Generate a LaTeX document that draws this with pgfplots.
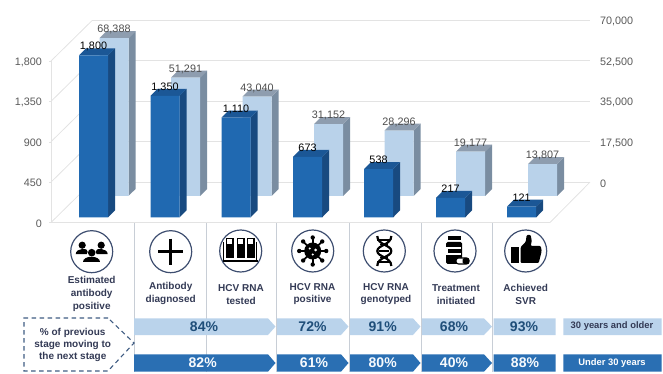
\documentclass[border=0pt]{standalone}
\usepackage{fontspec}
\setmainfont{Liberation Sans}
\usepackage{pgfplots}
\usepackage{pgfplotstable}
\pgfplotsset{compat=1.18}
\pgfplotsset{/pgf/number format/assume math mode=true,/pgf/number format/.cd,fixed,precision=0,1000 sep={,}}
\definecolor{fb}{HTML}{2069B1}
\definecolor{fs}{HTML}{184A80}
\definecolor{ft}{HTML}{1B5796}
\definecolor{rb}{HTML}{B9D2EA}
\definecolor{rs}{HTML}{7A8DA1}
\definecolor{rt}{HTML}{8E9DAF}
\definecolor{wallc}{HTML}{E3E3E3}
\definecolor{labc}{HTML}{595959}
\definecolor{navyc}{HTML}{333A55}
\definecolor{ringc}{HTML}{3E4E70}
\definecolor{sepc}{HTML}{C8CED6}
\definecolor{bandl}{HTML}{BAD3EB}
\definecolor{bandd}{HTML}{2A6FB3}
\definecolor{pcttxt}{HTML}{1F4E79}
\definecolor{dashc}{HTML}{3F5C82}
\pgfplotstableread{
x value
93.5 1800
165 1350
236 1110
307.5 673
378.5 538
450.5 217
521.5 121
}\frontdata
\pgfplotstableread{
x value
114 68388
185.5 51291
257 43040
328.5 31152
399 28296
470.5 19177
542.5 13807
}\reardata
% side and top faces of a bar: right edge, value, depth in data units, colours
\newcommand\facets[5]{%
  \pgfmathsetmacro\Rr{#1+7}\pgfmathsetmacro\Ll{#1-29+7}\pgfmathsetmacro\Lz{#1-29}\edef\Vv{\the\numexpr#2+#3\relax}%
  \edef\temp{\noexpand\addplot[fill=#4,draw=none,forget plot] coordinates {(#1,0) (\Rr,#3) (\Rr,\Vv) (#1,#2)} --cycle;
  \noexpand\addplot[fill=#5,draw=none,forget plot] coordinates {(\Lz,#2) (#1,#2) (\Rr,\Vv) (\Ll,\Vv)} --cycle;}\temp}
\newcommand\band[7]{\addplot[fill=#1,draw=none,forget plot] coordinates {(#2,#4) (#3,#4) (#7,#6) (#3,#5) (#2,#5)} --cycle;}
\newcommand\iconat[3]{\begin{scope}[x=1pt,y=-1pt,shift={(#1,#2-374)}]\draw[ringc,line width=1.2pt] (0,0) circle (21pt);#3\end{scope}}
\begin{document}
\begin{tikzpicture}[x=1pt,y=1pt]
\useasboundingbox (0,0) rectangle (663,374);
% left scale and floor
\begin{axis}[name=A,at={(51pt,151.5pt)},anchor=south west,scale only axis,width=499pt,height=161.5pt,
  xmin=51,xmax=550,ymin=0,ymax=1800,ytick={0,450,900,1350,1800},xtick=\empty,clip=false,
  axis y line*=left,axis x line*=bottom,axis line style={wallc,-,line width=0.9pt},
  tick align=outside,major tick length=2pt,tick style={wallc},
  yticklabel style={font=\fontsize{10.8}{12}\selectfont,text=labc,inner sep=0pt,xshift=-7pt,yshift=-1pt}]
\addplot[wallc,line width=0.8pt,forget plot] coordinates {(51,0) (92,450)};
\addplot[wallc,line width=0.8pt,forget plot] coordinates {(51,450) (92,900)};
\addplot[wallc,line width=0.8pt,forget plot] coordinates {(51,900) (92,1350)};
\addplot[wallc,line width=0.8pt,forget plot] coordinates {(51,1350) (92,1800)};
\addplot[wallc,line width=0.8pt,forget plot] coordinates {(51,1800) (92,2250)};
\addplot[wallc,line width=0.8pt,forget plot] coordinates {(550,0) (590,450)};
\end{axis}
% right scale and back wall
\begin{axis}[at={(92pt,191.5pt)},anchor=south west,scale only axis,width=498pt,height=162.5pt,
  xmin=92,xmax=590,ymin=0,ymax=70000,ytick={0,17500,35000,52500,70000},xtick=\empty,clip=false,
  axis y line*=right,axis x line=none,y axis line style={draw=none},major tick length=0pt,
  ymajorgrids,grid style={wallc,line width=0.9pt},scaled y ticks=false,
  yticklabel style={font=\fontsize{10.8}{12}\selectfont,text=labc,inner sep=0pt,xshift=10pt,yshift=-1.5pt}]
\end{axis}
% rear bars: 30 years and older
\begin{axis}[hide axis,at={(51pt,178pt)},anchor=south west,scale only axis,width=539pt,height=161.7pt,
  xmin=51,xmax=590,ymin=0,ymax=70000,clip=false]
\facets{128.5}{68388}{3030}{rs}{rt}
\facets{200}{51291}{3030}{rs}{rt}
\facets{271.5}{43040}{3030}{rs}{rt}
\facets{343}{31152}{3030}{rs}{rt}
\facets{413.5}{28296}{3030}{rs}{rt}
\facets{485}{19177}{3030}{rs}{rt}
\facets{557}{13807}{3030}{rs}{rt}
\addplot[ybar,bar width=29pt,bar shift=0pt,fill=rb,draw=none,
  nodes near coords,every node near coord/.append style={anchor=base,yshift=5.5pt,inner sep=0pt,font=\fontsize{10.8}{12}\selectfont,text=labc!85!black}]
  table[x=x,y=value]{\reardata};
\end{axis}
% front bars: under 30 years
\begin{axis}[hide axis,at={(51pt,156.5pt)},anchor=south west,scale only axis,width=539pt,height=162pt,
  xmin=51,xmax=590,ymin=0,ymax=1800,clip=false]
\facets{108}{1800}{78}{fs}{ft}
\facets{179.5}{1350}{78}{fs}{ft}
\facets{250.5}{1110}{78}{fs}{ft}
\facets{322}{673}{78}{fs}{ft}
\facets{393}{538}{78}{fs}{ft}
\facets{465}{217}{78}{fs}{ft}
\facets{536}{121}{78}{fs}{ft}
\addplot[ybar,bar width=29pt,bar shift=0pt,fill=fb,draw=none,
  nodes near coords,every node near coord/.append style={anchor=base,yshift=5.5pt,inner sep=0pt,font=\fontsize{10.8}{12}\selectfont,text=black}]
  table[x=x,y=value]{\frontdata};
\end{axis}
% lower panel in picture pixels
\begin{axis}[hide axis,at={(0pt,0pt)},anchor=south west,scale only axis,width=663pt,height=374pt,
  xmin=0,xmax=663,ymin=0,ymax=374,y dir=reverse,clip=false]
\addplot[sepc,line width=0.9pt,forget plot] coordinates {(134,223) (134,372)};
\addplot[sepc,line width=0.9pt,forget plot] coordinates {(206,223) (206,372)};
\addplot[sepc,line width=0.9pt,forget plot] coordinates {(276,223) (276,372)};
\addplot[sepc,line width=0.9pt,forget plot] coordinates {(349.5,223) (349.5,372)};
\addplot[sepc,line width=0.9pt,forget plot] coordinates {(421,223) (421,372)};
\addplot[sepc,line width=0.9pt,forget plot] coordinates {(492.7,223) (492.7,372)};
\band{bandl}{134}{268}{318.3}{335}{326.6}{275.5}
\band{bandl}{277}{341}{318.3}{335}{326.6}{348.5}
\band{bandl}{350}{413}{318.3}{335}{326.6}{420.5}
\band{bandl}{422}{484}{318.3}{335}{326.6}{492}
\band{bandl}{493.5}{555.7}{318.3}{335}{326.6}{555.7}
\band{bandl}{563.3}{661.7}{318.3}{335}{326.6}{661.7}
\band{bandd}{134}{268}{354.3}{371.7}{363}{275.5}
\band{bandd}{277}{341}{354.3}{371.7}{363}{348.5}
\band{bandd}{350}{413}{354.3}{371.7}{363}{420.5}
\band{bandd}{422}{484}{354.3}{371.7}{363}{492}
\band{bandd}{493.5}{555.7}{354.3}{371.7}{363}{555.7}
\band{bandd}{563.3}{661.7}{354.3}{371.7}{363}{661.7}
\addplot[dashc,line width=1.1pt,dash pattern=on 4.5pt off 3.5pt,forget plot] coordinates {(108,318) (24,318) (24,371) (108,371) (134,343) (108,318)};
\end{axis}
\begin{scope}[x=1pt,y=-1pt,shift={(0,-374)},every node/.style={inner sep=0pt,font=\fontsize{10}{12}\selectfont\bfseries,text=navyc}]
\node at (91.7,280) {Estimated};\node at (91.7,293.5) {antibody};\node at (91.7,307) {positive};
\node at (170.7,286.7) {Antibody};\node at (170.7,300) {diagnosed};
\node at (241,288.5) {HCV RNA};\node at (241,301) {tested};
\node at (312.5,286.7) {HCV RNA};\node at (312.5,300) {positive};
\node at (386,286.7) {HCV RNA};\node at (386,300) {genotyped};
\node at (456,288) {Treatment};\node at (456,301) {initiated};
\node at (525.7,288) {Achieved};\node at (525.7,301) {SVR};
\node at (72.7,333.3) {\% of previous};\node at (72.7,345) {stage moving to};\node at (72.7,356.7) {the next stage};
\node[font=\fontsize{9.4}{11}\selectfont\bfseries] at (612,326.5) {30 years and older};
\node[font=\fontsize{9.4}{11}\selectfont\bfseries,text=white] at (612,363) {Under 30 years};
\foreach \x/\t in {204/84,312.5/72,382.7/91,454/68,524/93}
  \node[font=\fontsize{14}{16}\selectfont\bfseries,text=pcttxt] at (\x,326.5) {\t\%};
\foreach \x/\t in {202.7/82,314/61,382.7/80,454/40,525/88}
  \node[font=\fontsize{14}{16}\selectfont\bfseries,text=white!88!bandl] at (\x,362.5) {\t\%};
\end{scope}
% pictograms
\iconat{91.7}{251.7}{
  \fill (-9.5,-6.5) circle (3.6pt) (9.5,-6.5) circle (3.6pt) (0,1) circle (3.8pt);
  \fill (-16,2.5) .. controls (-16,-4) and (-3,-4) .. (-4,0) -- (-5,2.5) -- cycle;
  \fill (16,2.5) .. controls (16,-4) and (3,-4) .. (4,0) -- (5,2.5) -- cycle;
  \fill (-8.5,10) .. controls (-8.5,3) and (8.5,3) .. (8.5,10) -- cycle;}
\iconat{170.7}{251.7}{\draw[line width=3pt] (-12.5,0) -- (12.5,0) (0,-13) -- (0,13);}
\iconat{240.7}{251}{
  \foreach \u in {-11,0,10}{\fill (\u-4,-13) rectangle (\u+4,7);\fill[white] (\u-2.5,-11.5) rectangle (\u+2.5,-7);}
  \draw[line width=1.6pt] (-18,10) -- (17,10);
  \draw[line width=1.4pt] (-17,-9) -- (-17,10) (16,-9) -- (16,10);}
\iconat{312.7}{251}{
  \fill (0,0) circle (8.5pt);
  \foreach \a in {0,45,...,315}{\draw[line width=1.8pt] (0,0) -- (\a:12.5pt);\fill (\a:13.5pt) circle (2.2pt);}
  \fill[white] (-3,-2.5) circle (1.2pt) (3,-1) circle (1.5pt) (0,3.5) circle (1.2pt);}
\iconat{384.3}{251}{
  \draw[line width=2.2pt] (-7,-15) .. controls (-7,-6) and (7,-6) .. (7,0) .. controls (7,6) and (-7,6) .. (-7,15);
  \draw[line width=2.2pt] (7,-15) .. controls (7,-6) and (-7,-6) .. (-7,0) .. controls (-7,6) and (7,6) .. (7,15);
  \draw[line width=1.6pt] (-7,-11) -- (7,-11) (-5,0) -- (5,0) (-7,11) -- (7,11) (-4,-6.5) -- (4,-6.5) (-4,6.5) -- (4,6.5);}
\iconat{455}{251}{
  \fill (-7,-15) rectangle (6,-10.5);
  \fill[rounded corners=1.5pt] (-9,-9) rectangle (7,13);
  \fill[white] (-9,-3.5) rectangle (6,4);
  \fill (-7,-1.5) rectangle (6,2.5);
  \draw[fill=white,line width=1.1pt,rounded corners=2.5pt] (1,7) rectangle (14,13);
  \fill[rounded corners=1.5pt] (7.5,7) rectangle (14,13);}
\iconat{525.7}{251}{
  \fill (-15,-4) rectangle (-7,12);
  \fill[rounded corners=1pt] (-5,-4) -- (0,-9) -- (1,-16) -- (5,-16) -- (6,-10) -- (5,-5) -- (15,-5) -- (16,0) -- (13,12) -- (-5,12) -- cycle;}
\end{tikzpicture}
\end{document}
